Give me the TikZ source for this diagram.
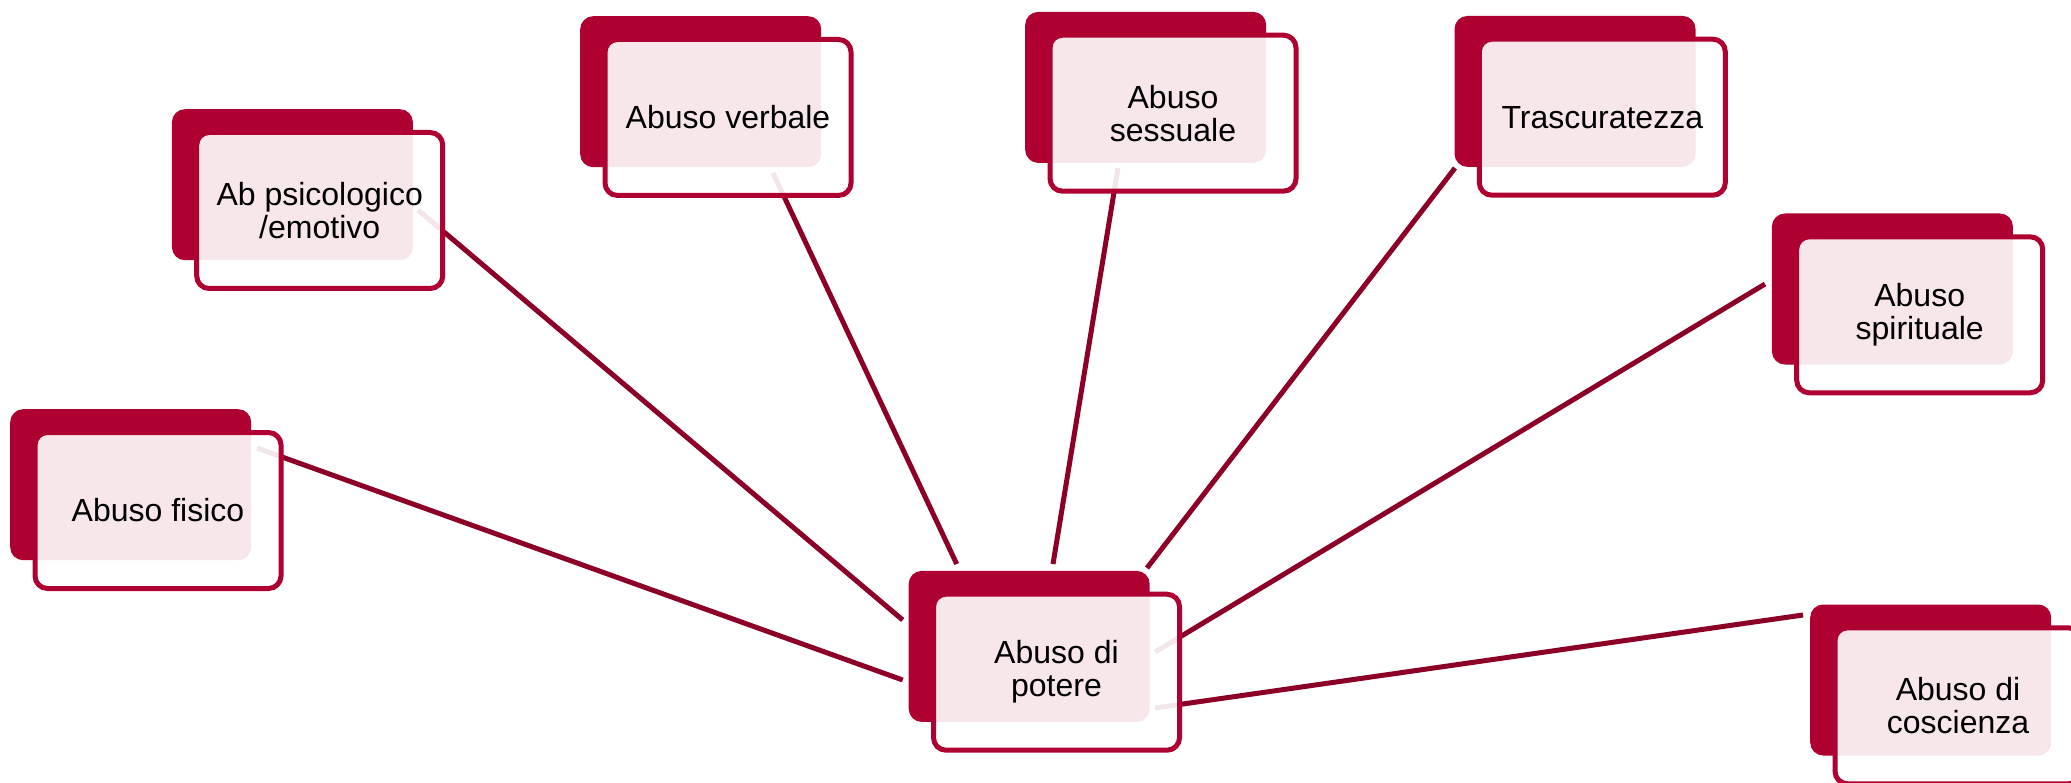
\documentclass[tikz,border=0pt]{standalone}
\usepackage{fontspec}
\setmainfont{Liberation Sans}
\usetikzlibrary{calc}
\definecolor{abusered}{RGB}{175,0,50}
\definecolor{linkred}{RGB}{140,0,40}

\begin{document}
\begin{tikzpicture}[x=1pt,y=-1pt,
  backcard/.style={fill=abusered,rounded corners=13pt,minimum width=241pt,
    minimum height=151pt,inner sep=0pt,anchor=north west},
  frontcard/.style={draw=abusered,line width=5pt,fill=white,fill opacity=0.9,
    text opacity=1,rounded corners=12.5pt,minimum width=246pt,minimum height=156pt,
    inner sep=0pt,align=center,font=\fontsize{32}{33}\selectfont},
  link/.style={draw=linkred,line width=5pt}]
\useasboundingbox (0,0) rectangle (2071,783);
\clip (0,0) rectangle (2071,783);
% dark cards behind
\foreach \there/\pos in {psicologico/{171.7,109},verbale/{580,16},sessuale/{1025,11.7},
    trascuratezza/{1454.3,15.7},spirituale/{1771.7,213.3},fisico/{10,409},
    potere/{908.5,570.7},coscienza/{1810,604.3}}
  {\node[backcard] (\there) at (\pos) {};}
% spokes from the hub
\foreach \there/\hx/\hy/\fx/\fy in {psicologico/-5.8/49.3/246.3/101,
    fisico/-5.8/109.3/247/39,verbale/48.2/-6.7/193/157,sessuale/144.5/-6.7/93/156.3,
    trascuratezza/238.5/-2.7/0.7/152.3,spirituale/246.5/81.3/-6.7/70.7,
    coscienza/246.5/137.3/-7/10.7}
  {\draw[link] ($(potere.north west)+(\hx,\hy)$) -- ($(\there.north west)+(\fx,\fy)$);}
% light cards in front
\def\abusecard(#1)#2;{%
\node[frontcard] (#1-card) at ($(#1.north west)+(148,101.5)$) {#2};
}
\abusecard(psicologico){Ab psicologico\\/emotivo};
\abusecard(verbale){Abuso verbale};
\abusecard(sessuale){Abuso\\sessuale};
\abusecard(trascuratezza){Trascuratezza};
\abusecard(spirituale){Abuso\\spirituale};
\abusecard(fisico){Abuso fisico};
\abusecard(potere){Abuso di\\potere};
\abusecard(coscienza){Abuso di\\coscienza};
\end{tikzpicture}
\end{document}
